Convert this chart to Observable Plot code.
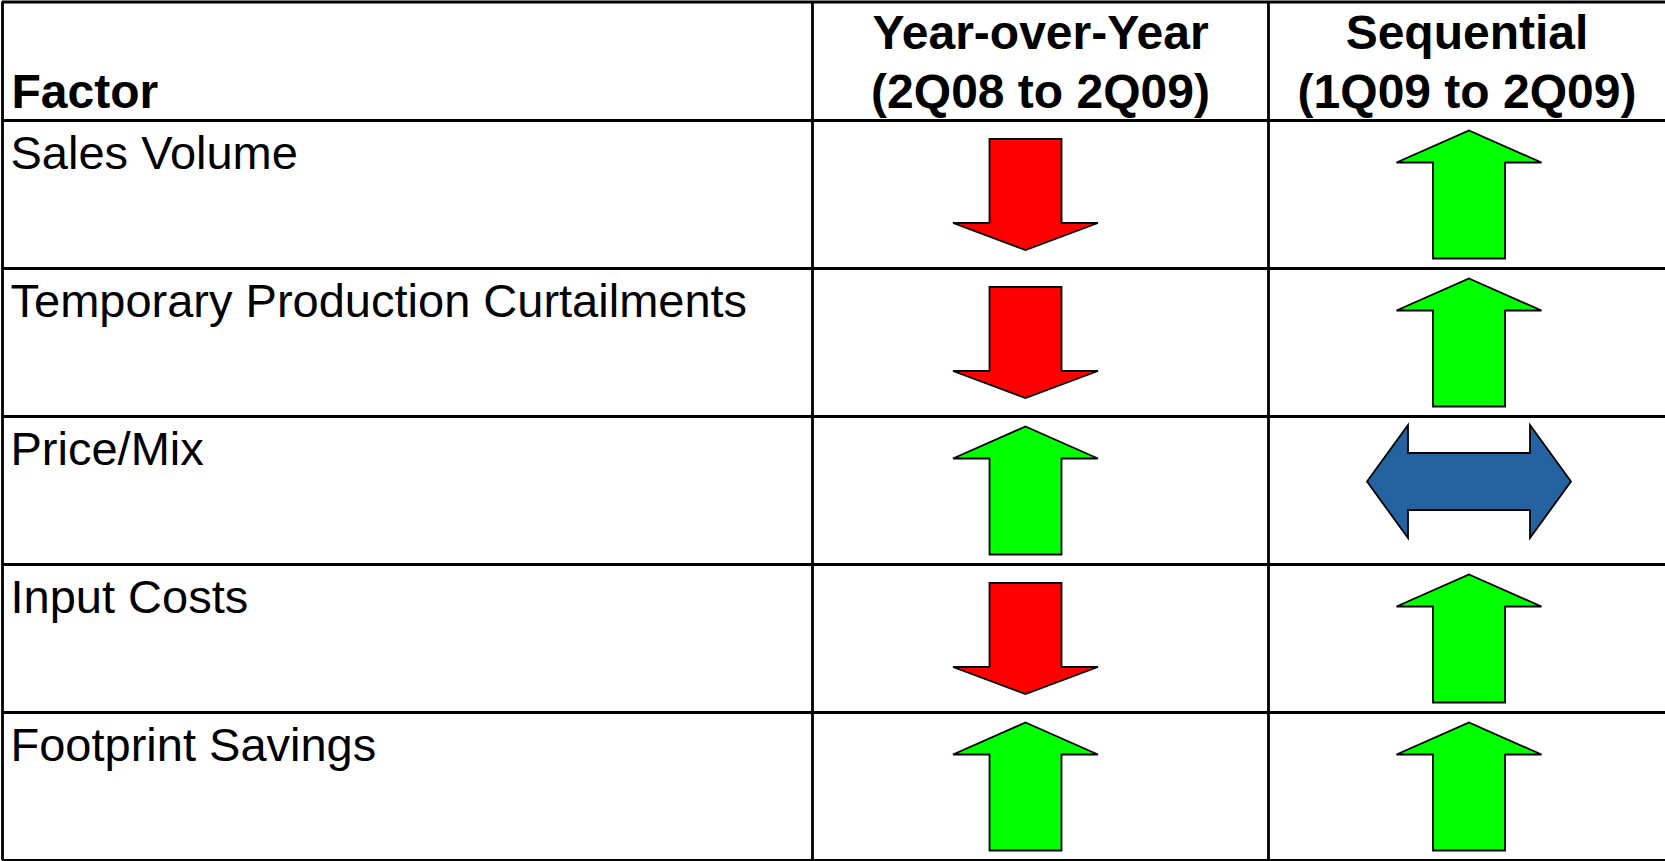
<!DOCTYPE html>
<html>
<head>
<meta charset="utf-8">
<script src="https://cdn.jsdelivr.net/npm/d3@7"></script>
<script src="https://cdn.jsdelivr.net/npm/@observablehq/plot@0.6"></script>
<style>
  html, body { margin: 0; padding: 0; background: #ffffff; }
  svg { display: block; }
</style>
</head>
<body>
<div id="chart"></div>
<script>
// ---- data ----
const columnHeaders = ["Factor", "Year-over-Year\n(2Q08 to 2Q09)", "Sequential\n(1Q09 to 2Q09)"];
const factors = ["Sales Volume", "Temporary Production Curtailments", "Price/Mix", "Input Costs", "Footprint Savings"];
const yearOverYear = ["down", "down", "up", "down", "up"];
const sequential = ["up", "up", "flat", "up", "up"];

// ---- arrow glyphs (shape definitions, pixel units relative to the mark's anchor) ----
function polygonSymbol(points) {
  return {
    draw(context) {
      context.moveTo(points[0][0], points[0][1]);
      for (let i = 1; i < points.length; ++i) context.lineTo(points[i][0], points[i][1]);
      context.closePath();
    }
  };
}
const upArrow = polygonSymbol([[0, -64], [72.5, -32], [36, -32], [36, 64], [-36, 64], [-36, -32], [-72.5, -32]]);
const downArrow = polygonSymbol([[-36, -55.5], [36, -55.5], [36, 28.5], [72.5, 28.5], [0, 55.5], [-72.5, 28.5], [-36, 28.5]]);
const doubleArrow = polygonSymbol([[-102, 0], [-61, -56.5], [-61, -28.5], [61, -28.5], [61, -56.5], [102, 0], [61, 56.5], [61, 28.5], [-61, 28.5], [-61, 56.5]]);

const styles = {
  up:   {symbol: upArrow,     fill: "#00ff00", dy: 0},
  down: {symbol: downArrow,   fill: "#ff0000", dy: 0},
  flat: {symbol: doubleArrow, fill: "#2462a0", dy: -9}
};

// ---- table built from the arrays ----
const rows = factors.map((f, i) => ({factor: f, row: i + 1, yoy: yearOverYear[i], seq: sequential[i]}));
const cells = rows.flatMap(r => [
  {col: 1, row: r.row, dir: r.yoy},
  {col: 2, row: r.row, dir: r.seq}
]);
const headers = columnHeaders.map((h, i) => ({label: h, col: i}));

const colDx = {1: -15, 2: 2};

const arrowMarks = [];
for (const col of [1, 2]) {
  for (const dir of ["up", "down", "flat"]) {
    const s = styles[dir];
    arrowMarks.push(Plot.dot(cells.filter(d => d.col === col && d.dir === dir), {
      x: d => d.col + 0.5,
      y: d => d.row + 0.5,
      symbol: s.symbol,
      r: 10,
      fill: s.fill,
      stroke: "black",
      strokeWidth: 1.8,
      strokeLinejoin: "miter",
      dx: colDx[col],
      dy: s.dy
    }));
  }
}

const font = "'Liberation Sans', Arial, Helvetica, sans-serif";

const plot = Plot.plot({
  width: 1665,
  height: 861,
  margin: 0,
  style: {background: "#ffffff", fontFamily: font, overflow: "visible"},
  x: {type: "linear", domain: [0, 1, 2, 3], range: [2, 812, 1268, 1665], axis: null},
  y: {type: "linear", domain: [0, 1, 6], range: [1.5, 120, 860], axis: null},
  marks: [
    // grid
    Plot.ruleY([0, 1, 2, 3, 4, 5, 6], {y: d => d, x1: 0, x2: 3, stroke: "black", strokeWidth: 3.2}),
    Plot.ruleX([0, 1, 2], {x: d => d, y1: 0, y2: 6, stroke: "black", strokeWidth: 2.8}),
    // header: Factor
    Plot.text(headers.filter(d => d.col === 0), {
      x: d => d.col, y: 0, text: "label",
      textAnchor: "start", lineAnchor: "top", dx: 9, dy: 72,
      fontSize: 48, fontWeight: "bold", fill: "black", fontFamily: font
    }),
    // header: period columns
    Plot.text(headers.filter(d => d.col > 0), {
      x: d => d.col + 0.5, y: 0, text: "label",
      textAnchor: "middle", lineAnchor: "top", dy: 5, lineHeight: 1.23,
      fontSize: 48, fontWeight: "bold", fill: "black", fontFamily: font
    }),
    // factor labels
    Plot.text(rows, {
      x: 0, y: "row", text: "factor",
      textAnchor: "start", lineAnchor: "top", dx: 8, dy: 15,
      fontSize: 47, fill: "black", fontFamily: font
    }),
    ...arrowMarks
  ]
});

document.getElementById("chart").appendChild(plot);
</script>
</body>
</html>
